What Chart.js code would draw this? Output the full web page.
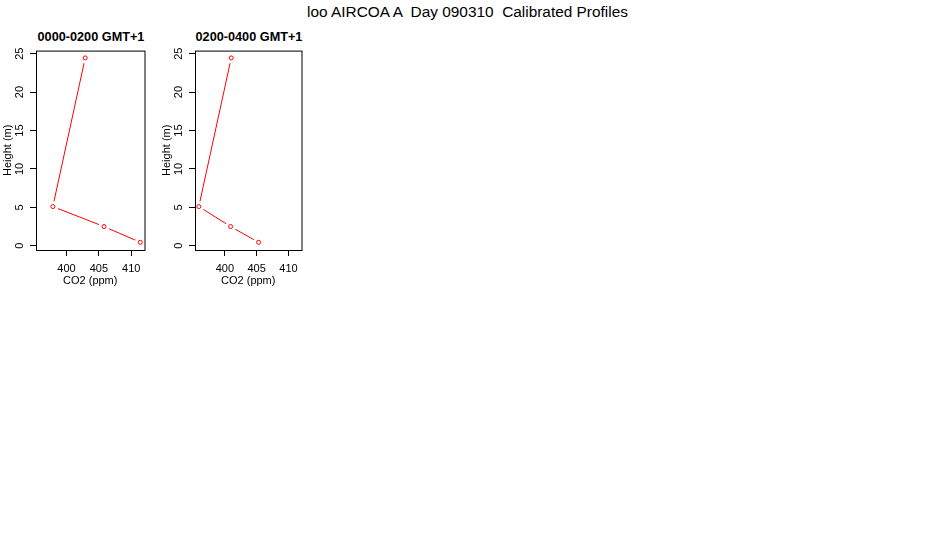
<!DOCTYPE html>
<html>
<head>
<meta charset="utf-8">
<script src="https://cdn.jsdelivr.net/npm/chart.js@4"></script>
<style>
    body { margin: 0; background: #fff; width: 950px; height: 550px; position: relative; overflow: hidden;
           font-family: "Liberation Sans", Arial, sans-serif; }
    .t { position: absolute; white-space: pre; color: #000; text-align: center; }
    canvas { position: absolute; }
</style>
</head>
<body>
<div class="t" style="left:0; width:935px; top:4px; font-size:15.4px; line-height:15.4px;">loo AIRCOA A  Day 090310  Calibrated Profiles</div>
<div class="t" id="title1" style="left:36px; width:110px; top:31px; font-size:12.7px; line-height:12.7px; font-weight:bold;"></div>
<div class="t" id="title2" style="left:195px; width:108px; top:31px; font-size:12.7px; line-height:12.7px; font-weight:bold;"></div>
<canvas id="panel1" width="150" height="250" style="left:0; top:40px;"></canvas>
<canvas id="panel2" width="148" height="250" style="left:159px; top:40px;"></canvas>
<script>
// 資料
const panelTitles = ['0000-0200 GMT+1', '0200-0400 GMT+1'];
const heights = [0.45, 2.5, 5.1, 24.45];          // 高度 (m)
const co2Panel1 = [411.4, 405.8, 397.9, 402.9];   // 0000-0200
const co2Panel2 = [405.3, 400.9, 395.9, 401.0];   // 0200-0400
const xTicks = [400, 405, 410];
const yTicks = [0, 5, 10, 15, 20, 25];
const xMin = 395.3, xMax = 412.05;
const yMin = -0.55, yMax = 25.4;

const tickFont = { family: '"Liberation Sans", Arial, sans-serif', size: 11 };

// 外框 (R 的 box)
const boxPlugin = {
    id: 'box',
    afterDraw(chart) {
        const a = chart.chartArea;
        const ctx = chart.ctx;
        ctx.save();
        ctx.strokeStyle = '#000';
        ctx.lineWidth = 1;
        ctx.strokeRect(a.left + 0.5, a.top + 0.5, a.right - a.left, a.bottom - a.top);
        ctx.restore();
    }
};

function drawPanel(id, co2) {
    const pts = heights.map((h, i) => ({ x: co2[i], y: h }));
    return new Chart(document.getElementById(id), {
        type: 'scatter',
        data: {
            datasets: [
                // 線
                { data: pts, showLine: true, borderColor: '#ff0000', borderWidth: 1, pointRadius: 0, order: 3 },
                // 點周圍的空隙 (type="b")
                { data: pts, showLine: false, pointRadius: 5.5, pointBorderWidth: 0,
                  pointBackgroundColor: '#fff', pointBorderColor: '#fff', order: 2 },
                // 空心圓點
                { data: pts, showLine: false, pointRadius: 2, pointBorderWidth: 1,
                  pointBorderColor: '#ff0000', pointBackgroundColor: '#fff', order: 1 }
            ]
        },
        options: {
            responsive: false,
            animation: false,
            layout: { padding: { top: 9, right: 4, left: 0, bottom: 0 } },
            plugins: { legend: { display: false }, tooltip: { enabled: false } },
            scales: {
                x: {
                    type: 'linear', min: xMin, max: xMax,
                    afterBuildTicks: s => { s.ticks = xTicks.map(v => ({ value: v })); },
                    afterFit: s => { s.height = 40; },
                    grid: { display: true, drawOnChartArea: false, drawTicks: true, tickLength: 6,
                            color: '#000', tickColor: '#000', lineWidth: 1 },
                    border: { display: false },
                    ticks: { color: '#000', font: tickFont, padding: 6, maxRotation: 0, minRotation: 0 },
                    title: { display: true, text: 'CO2 (ppm)', color: '#000', font: tickFont,
                             padding: { top: 0, bottom: 2 } }
                },
                y: {
                    type: 'linear', min: yMin, max: yMax,
                    afterBuildTicks: s => { s.ticks = yTicks.map(v => ({ value: v })); },
                    afterFit: s => { s.width = 36; },
                    grid: { display: true, drawOnChartArea: false, drawTicks: true, tickLength: 6,
                            color: '#000', tickColor: '#000', lineWidth: 1 },
                    border: { display: false },
                    ticks: { color: '#000', font: tickFont, padding: 4, minRotation: 90, maxRotation: 90,
                             crossAlign: 'center' },
                    title: { display: true, text: 'Height (m)', color: '#000', font: tickFont,
                             padding: { top: 1, bottom: 0 } }
                }
            }
        },
        plugins: [boxPlugin]
    });
}

document.getElementById('title1').textContent = panelTitles[0];
document.getElementById('title2').textContent = panelTitles[1];
drawPanel('panel1', co2Panel1);
drawPanel('panel2', co2Panel2);
</script>
</body>
</html>
